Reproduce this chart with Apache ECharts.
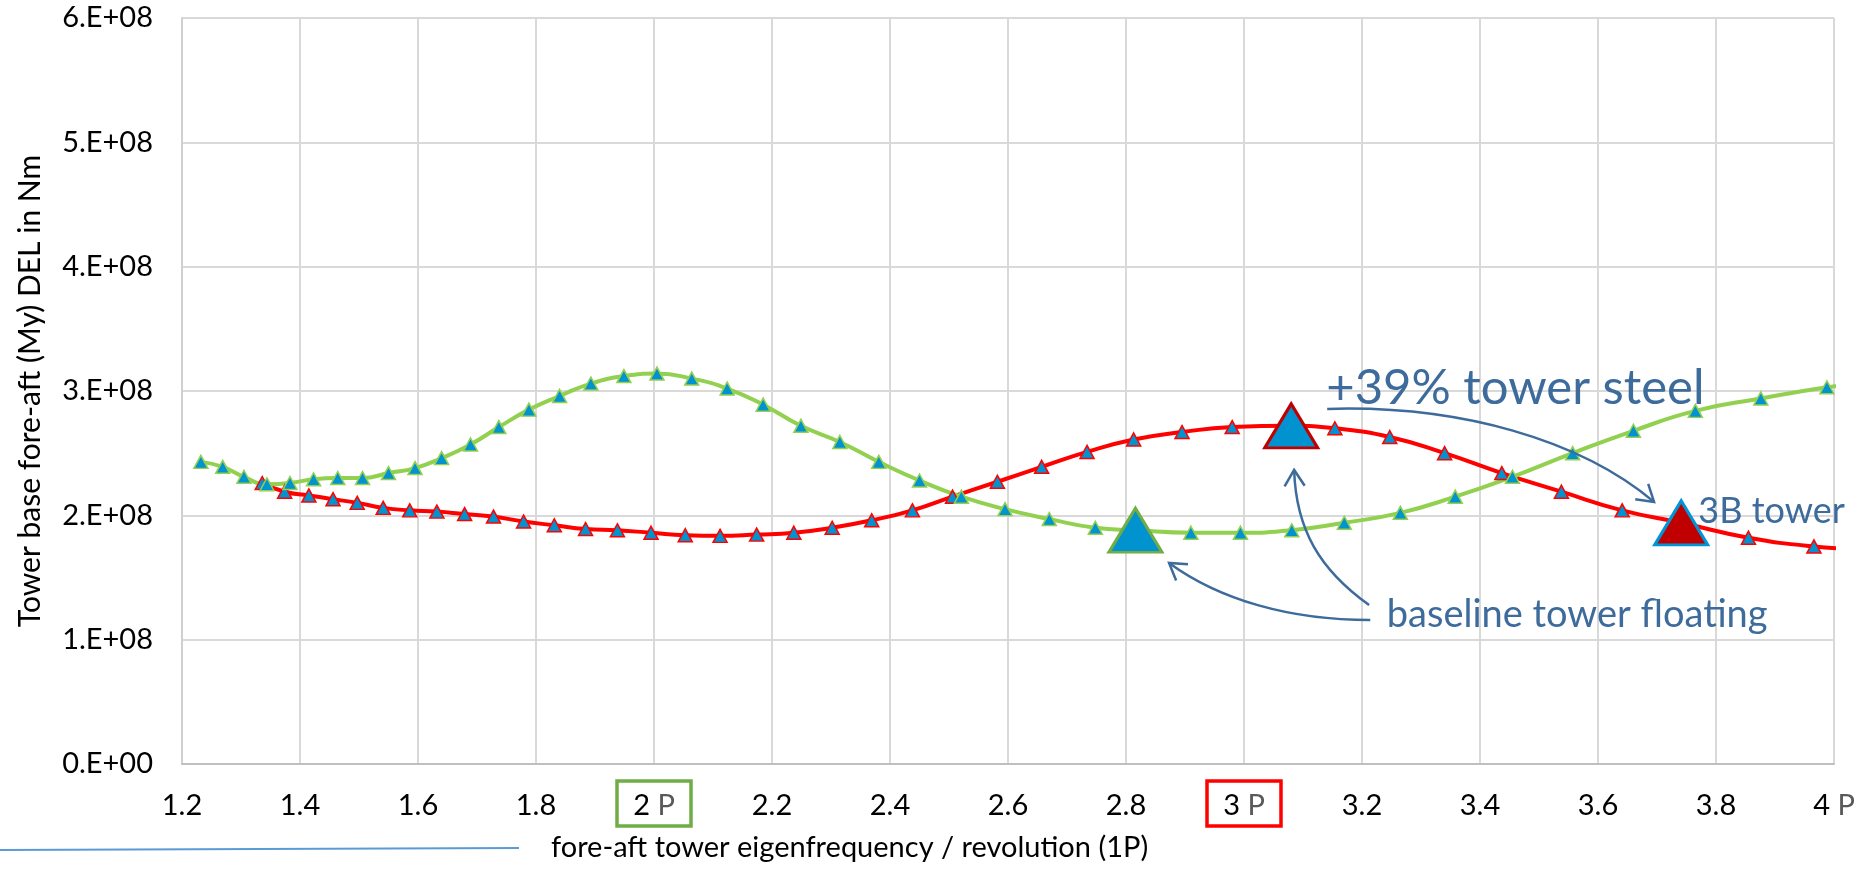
<!DOCTYPE html>
<html>
<head>
<meta charset="utf-8">
<script src="https://cdn.jsdelivr.net/npm/echarts@6.0.0/dist/echarts.min.js"></script>
<style>
  html, body { margin: 0; padding: 0; background: #fff; }
  #chart { width: 1870px; height: 872px; }
</style>
</head>
<body>
<div id="chart"></div>
<script>
// eigenfrequency / revolution (1P) and tower base fore-aft DEL (Nm)
const greenFreq = [1.232, 1.269, 1.305, 1.344, 1.383, 1.423, 1.464, 1.506, 1.550, 1.595,
  1.640, 1.689, 1.737, 1.788, 1.840, 1.893, 1.949, 2.005, 2.064, 2.124,
  2.185, 2.249, 2.315, 2.381, 2.450, 2.521, 2.595, 2.670, 2.748, 2.816,
  2.910, 2.994, 3.081, 3.170, 3.265, 3.358, 3.455, 3.557, 3.660, 3.765,
  3.876, 3.988, 4.100];
const greenDel = [2.43e8, 2.39e8, 2.31e8, 2.25e8, 2.26e8, 2.29e8, 2.30e8, 2.30e8, 2.34e8, 2.38e8,
  2.46e8, 2.57e8, 2.71e8, 2.85e8, 2.96e8, 3.06e8, 3.12e8, 3.14e8, 3.10e8, 3.02e8,
  2.89e8, 2.72e8, 2.59e8, 2.43e8, 2.28e8, 2.15e8, 2.05e8, 1.97e8, 1.90e8, 1.88e8,
  1.86e8, 1.86e8, 1.88e8, 1.94e8, 2.02e8, 2.15e8, 2.31e8, 2.50e8, 2.68e8, 2.84e8,
  2.94e8, 3.03e8, 3.10e8];

const redFreq = [1.336, 1.374, 1.415, 1.456, 1.497, 1.541, 1.586, 1.632, 1.679, 1.728,
  1.779, 1.831, 1.884, 1.938, 1.995, 2.053, 2.112, 2.174, 2.237, 2.302,
  2.369, 2.438, 2.506, 2.582, 2.657, 2.734, 2.813, 2.895, 2.980, 3.080,
  3.154, 3.247, 3.340, 3.437, 3.538, 3.641, 3.741, 3.855, 3.966, 4.080];
const redDel = [2.26e8, 2.19e8, 2.16e8, 2.13e8, 2.10e8, 2.06e8, 2.04e8, 2.03e8, 2.01e8, 1.99e8,
  1.95e8, 1.92e8, 1.89e8, 1.88e8, 1.86e8, 1.84e8, 1.835e8, 1.845e8, 1.86e8, 1.90e8,
  1.96e8, 2.04e8, 2.15e8, 2.27e8, 2.39e8, 2.51e8, 2.61e8, 2.67e8, 2.71e8, 2.72e8,
  2.70e8, 2.63e8, 2.50e8, 2.34e8, 2.19e8, 2.04e8, 1.94e8, 1.82e8, 1.75e8, 1.72e8];

// highlighted design points
const greenBaselineFreq = 2.816;
const redBaselineFreq = 3.080;
const red3BFreq = 3.741;

const boxedTicks = [2, 3];
const boxColors = ['#70AD47', '#FF0000'];

const FONT = 'Lato';
const BLUE = '#0093CF';
const NOTE = '#3D6B9B';

function buildData(freq, del, lineColor, special) {
  return freq.map((f, i) => {
    const s = special[f];
    if (s) return { value: [f, del[i]], symbolSize: [53, 44], itemStyle: s };
    return { value: [f, del[i]], itemStyle: { color: BLUE, borderColor: lineColor, borderWidth: 1.5 } };
  });
}

const greenData = buildData(greenFreq, greenDel, '#92D050', {
  [greenBaselineFreq]: { color: BLUE, borderColor: '#70AD47', borderWidth: 3 }
});
const redData = buildData(redFreq, redDel, '#FF0000', {
  [redBaselineFreq]: { color: BLUE, borderColor: '#C00000', borderWidth: 3 },
  [red3BFreq]: { color: '#C00000', borderColor: '#0096D6', borderWidth: 3 }
});

const option = {
  animation: false,
  backgroundColor: '#fff',
  title: {
    text: 'fore-aft tower eigenfrequency / revolution (1P)',
    left: 551,
    top: 833,
    padding: 0,
    textStyle: { fontFamily: FONT, fontSize: 29, fontWeight: 'normal', color: '#000' }
  },
  grid: { left: 182, right: 36, top: 18, bottom: 108 },
  xAxis: {
    type: 'value',
    min: 1.2,
    max: 4,
    interval: 0.2,
    axisLine: { lineStyle: { color: '#BFBFBF', width: 2 } },
    axisTick: { show: false },
    splitLine: { lineStyle: { color: '#D9D9D9', width: 2 } },
    axisLabel: {
      margin: 27,
      fontFamily: FONT,
      fontSize: 29,
      color: '#000',
      showMinLabel: true,
      showMaxLabel: true,
      formatter: v => {
        if (Math.abs(v - Math.round(v)) < 1e-6) return '{n|' + Math.round(v) + '} {p|P}';
        return v.toFixed(1);
      },
      rich: {
        n: { fontFamily: FONT, fontSize: 29, color: '#000' },
        p: { fontFamily: FONT, fontSize: 29, color: '#595959' }
      }
    }
  },
  yAxis: {
    type: 'value',
    min: 0,
    max: 6e8,
    interval: 1e8,
    name: 'Tower base fore-aft (My) DEL in Nm',
    nameLocation: 'middle',
    nameGap: 137,
    nameTextStyle: { fontFamily: FONT, fontSize: 30, color: '#000' },
    axisLine: { show: true, lineStyle: { color: '#D0D0D0', width: 2 } },
    axisTick: { show: false },
    splitLine: { lineStyle: { color: '#D9D9D9', width: 2 } },
    axisLabel: {
      margin: 29,
      fontFamily: FONT,
      fontSize: 29,
      color: '#000',
      formatter: v => v === 0 ? '0.E+00' : Math.round(v / 1e8) + '.E+08'
    }
  },
  series: [
    {
      name: 'red',
      type: 'line',
      smooth: true,
      symbol: 'triangle',
      symbolSize: [14, 13],
      lineStyle: { color: '#FF0000', width: 4 },
      data: redData
    },
    {
      name: 'green',
      type: 'line',
      smooth: true,
      symbol: 'triangle',
      symbolSize: [14, 13],
      lineStyle: { color: '#92D050', width: 4 },
      data: greenData
    }
  ]
};

const chart = echarts.init(document.getElementById('chart'));
chart.setOption(option);

// annotations, given in data coordinates
const arrows = [
  [[3.141, 2.856e8], [3.366, 2.888e8], [3.570, 2.607e8], [3.695, 2.108e8]],
  [[3.212, 1.279e8], [3.129, 1.561e8], [3.088, 1.883e8], [3.085, 2.365e8]],
  [[3.214, 1.158e8], [3.078, 1.158e8], [2.959, 1.319e8], [2.873, 1.617e8]]
];
const notes = [
  { text: '+39% tower steel', at: [3.460, 3.025e8], size: 49, align: 'center' },
  { text: '3B tower', at: [3.770, 2.035e8], size: 36, align: 'left' },
  { text: 'baseline tower floating', at: [3.242, 1.199e8], size: 38, align: 'left' }
];

const toPx = p => chart.convertToPixel({ gridIndex: 0 }, p);
const graphic = [];

arrows.forEach(a => {
  const [p0, p1, p2, p3] = a.map(toPx);
  graphic.push({
    type: 'bezierCurve',
    shape: { x1: p0[0], y1: p0[1], cpx1: p1[0], cpy1: p1[1], cpx2: p2[0], cpy2: p2[1], x2: p3[0], y2: p3[1] },
    style: { stroke: NOTE, lineWidth: 2.5, fill: null },
    z: 10
  });
  // arrow head from the end tangent
  const dx = p3[0] - p2[0], dy = p3[1] - p2[1];
  const back = Math.atan2(-dy, -dx);
  const len = 19, spread = 32 * Math.PI / 180;
  const arm = ang => [p3[0] + len * Math.cos(ang), p3[1] + len * Math.sin(ang)];
  graphic.push({
    type: 'polyline',
    shape: { points: [arm(back - spread), p3, arm(back + spread)] },
    style: { stroke: NOTE, lineWidth: 2.5, fill: null },
    z: 10
  });
});

notes.forEach(n => {
  const p = toPx(n.at);
  graphic.push({
    type: 'text',
    x: p[0],
    y: p[1],
    style: { text: n.text, fill: NOTE, font: n.size + 'px ' + FONT, align: n.align, verticalAlign: 'middle' },
    z: 10
  });
});

// boxes around the 2P and 3P tick labels
boxedTicks.forEach((t, i) => {
  const p = toPx([t, 0]);
  graphic.push({
    type: 'rect',
    shape: { x: p[0] - 37, y: p[1] + 17, width: 74, height: 45 },
    style: { fill: null, stroke: boxColors[i], lineWidth: 3.5 },
    z: 10
  });
});

// thin blue rule at bottom left
graphic.push({
  type: 'line',
  shape: { x1: 0, y1: 850, x2: 519, y2: 848 },
  style: { stroke: '#5B9BD5', lineWidth: 2 }
});

chart.setOption({ graphic });
</script>
</body>
</html>
